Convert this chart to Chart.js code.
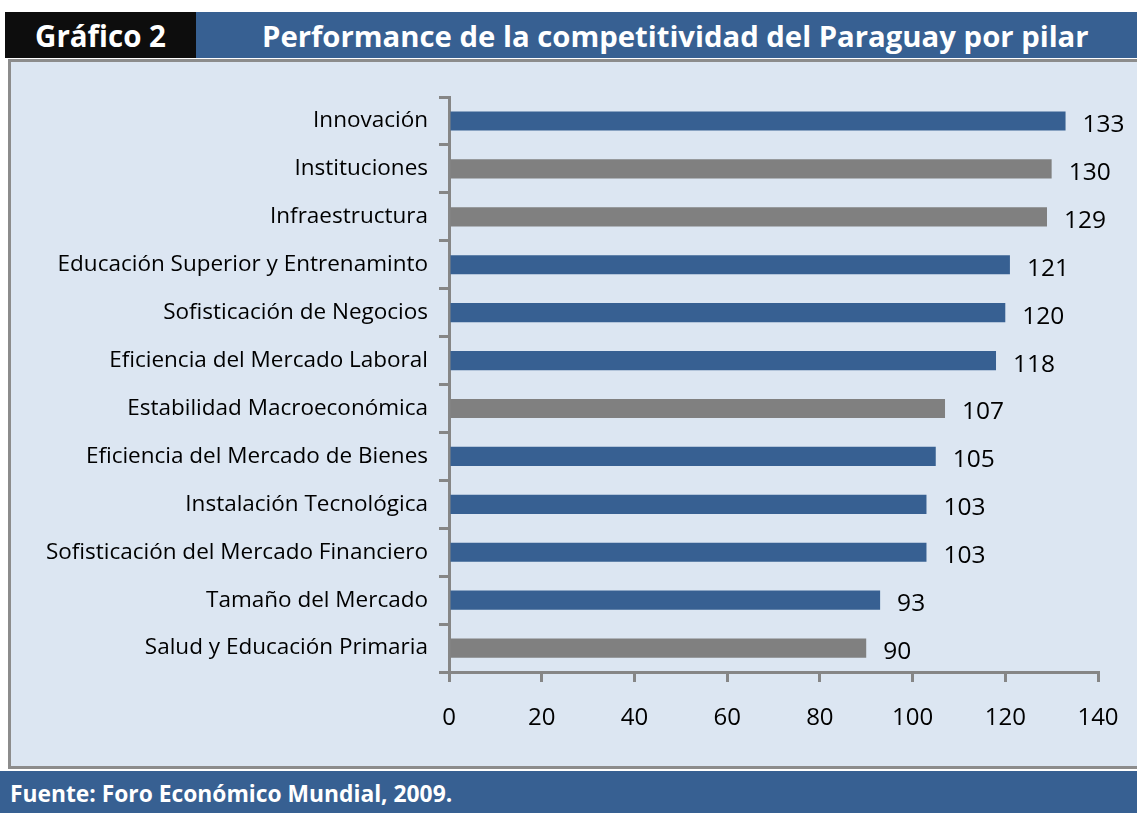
<!DOCTYPE html>
<html>
<head>
<meta charset="utf-8">
<script src="https://cdn.jsdelivr.net/npm/chart.js@4"></script>
<style>
  body { margin: 0; width: 1137px; height: 813px; background: #fff; position: relative; overflow: hidden; font-family: "Open Sans", sans-serif; }
  #hdrNum { position: absolute; left: 5px; top: 12px; width: 191px; height: 46px; background: #0d0d0d; color: #fff; font-weight: bold; font-size: 29.5px; line-height: 48px; text-align: center; }
  #hdrTitle { position: absolute; left: 196px; top: 12px; width: 941px; height: 46px; background: #376092; color: #fff; font-weight: bold; font-size: 29.3px; line-height: 48px; padding-left: 66px; box-sizing: border-box; white-space: nowrap; }
  #panel { position: absolute; left: 8px; top: 59px; width: 1140px; height: 704px; background: #dce6f2; border-left: 3px solid #8c8c8c; border-top: 3px solid #8c8c8c; border-bottom: 3px solid #8c8c8c; }
  #footer { position: absolute; left: 0; top: 771px; width: 1137px; height: 42px; background: #376092; color: #fff; font-weight: bold; font-size: 22.8px; }
  #footer span { position: absolute; left: 10px; top: 7px; white-space: nowrap; }
  #chart { position: absolute; left: 0; top: 0; }
</style>
</head>
<body>
<div id="hdrNum">Gráfico 2</div>
<div id="hdrTitle">Performance de la competitividad del Paraguay por pilar</div>
<div id="panel"></div>
<div id="footer"><span>Fuente: Foro Económico Mundial, 2009.</span></div>
<canvas id="chart" width="1137" height="813"></canvas>
<script>
const pilares = [
  "Innovación",
  "Instituciones",
  "Infraestructura",
  "Educación Superior y Entrenaminto",
  "Sofisticación de Negocios",
  "Eficiencia del Mercado Laboral",
  "Estabilidad Macroeconómica",
  "Eficiencia del Mercado de Bienes",
  "Instalación Tecnológica",
  "Sofisticación del Mercado Financiero",
  "Tamaño del Mercado",
  "Salud y Educación Primaria"
];
const posiciones = [133, 130, 129, 121, 120, 118, 107, 105, 103, 103, 93, 90];
// pilares de requerimientos basicos van en gris
const basicos = ["Instituciones", "Infraestructura", "Estabilidad Macroeconómica", "Salud y Educación Primaria"];
const xTicks = [0, 20, 40, 60, 80, 100, 120, 140];

const azul = "#376092";
const gris = "#808080";
const ejes = "#868686";

const barColors = pilares.map((p) => (basicos.includes(p) ? gris : azul));

// etiquetas de valor al final de cada barra
const valueLabels = {
  id: "valueLabels",
  afterDatasetsDraw(chart) {
    const ctx = chart.ctx;
    const meta = chart.getDatasetMeta(0);
    ctx.save();
    ctx.font = "24.5px 'Open Sans'";
    ctx.fillStyle = "#000";
    ctx.textAlign = "left";
    ctx.textBaseline = "middle";
    meta.data.forEach((bar, i) => {
      ctx.fillText(String(posiciones[i]), bar.x + 17, bar.y + 4);
    });
    ctx.restore();
  }
};

const ctx = document.getElementById("chart").getContext("2d");
new Chart(ctx, {
  type: "bar",
  data: {
    labels: pilares,
    datasets: [
      {
        data: posiciones,
        backgroundColor: barColors,
        borderWidth: 0,
        categoryPercentage: 1,
        barPercentage: 0.4
      }
    ]
  },
  options: {
    indexAxis: "y",
    responsive: false,
    animation: false,
    layout: { padding: { top: 97, left: 0, right: 39, bottom: 81 } },
    plugins: { legend: { display: false }, tooltip: { enabled: false } },
    scales: {
      x: {
        min: 0,
        max: 140,
        afterBuildTicks: (scale) => { scale.ticks = xTicks.map((v) => ({ value: v })); },
        afterFit: (scale) => { scale.height = 60; scale.paddingRight = 0; scale.paddingLeft = 0; },
        grid: { drawOnChartArea: false, color: ejes, lineWidth: 3, tickLength: 10 },
        border: { color: ejes, width: 3 },
        ticks: { color: "#000", font: { family: "Open Sans", size: 24 }, padding: 22 }
      },
      y: {
        afterFit: (scale) => { scale.width = 449; },
        grid: { drawOnChartArea: false, color: ejes, lineWidth: 3, tickLength: 10 },
        border: { color: ejes, width: 3 },
        ticks: { color: "#000", font: { family: "Open Sans", size: 22.5 }, padding: 11 }
      }
    }
  },
  plugins: [valueLabels]
});
</script>
</body>
</html>
